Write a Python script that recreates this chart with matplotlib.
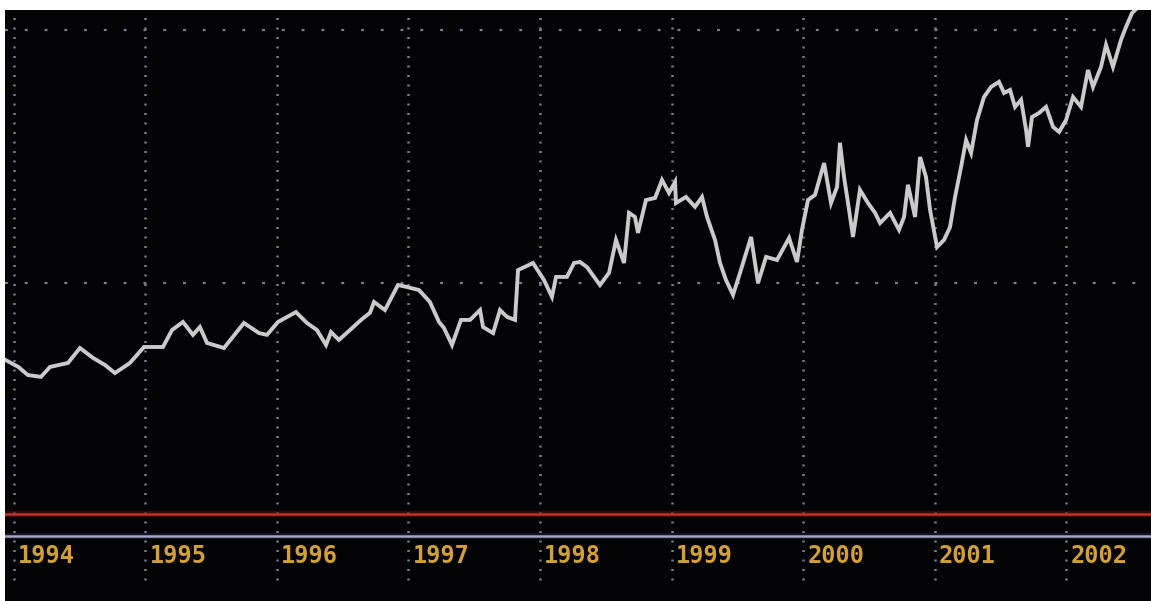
import matplotlib
matplotlib.use("Agg")
import matplotlib.pyplot as plt

# index level (fractional year, value)
t = [1993.935, 1994.034, 1994.106, 1994.205, 1994.274, 1994.411, 1994.502, 1994.601,
     1994.692, 1994.768, 1994.882, 1994.989, 1995.133, 1995.202, 1995.285, 1995.361,
     1995.414, 1995.468, 1995.597, 1995.665, 1995.749, 1995.863, 1995.924, 1996.008,
     1996.144, 1996.228, 1996.304, 1996.373, 1996.411, 1996.471, 1996.555, 1996.639,
     1996.707, 1996.738, 1996.821, 1996.920, 1996.989, 1997.080, 1997.163, 1997.232,
     1997.270, 1997.331, 1997.399, 1997.468, 1997.544, 1997.567, 1997.643, 1997.696,
     1997.749, 1997.810, 1997.833, 1997.947, 1998.030, 1998.091, 1998.122, 1998.205,
     1998.259, 1998.304, 1998.357, 1998.456, 1998.525, 1998.578, 1998.639, 1998.677,
     1998.722, 1998.745, 1998.806, 1998.875, 1998.928, 1998.981, 1999.027, 1999.034,
     1999.110, 1999.179, 1999.232, 1999.270, 1999.331, 1999.369, 1999.414, 1999.468,
     1999.521, 1999.605, 1999.658, 1999.719, 1999.802, 1999.894, 1999.954, 1999.992,
     2000.038, 2000.091, 2000.160, 2000.213, 2000.259, 2000.281, 2000.312, 2000.350,
     2000.380, 2000.433, 2000.494, 2000.548, 2000.586, 2000.662, 2000.730, 2000.768,
     2000.798, 2000.852, 2000.890, 2000.935, 2000.966, 2001.019, 2001.072, 2001.118,
     2001.156, 2001.202, 2001.240, 2001.278, 2001.323, 2001.376, 2001.430, 2001.490,
     2001.529, 2001.574, 2001.612, 2001.658, 2001.696, 2001.711, 2001.741, 2001.795,
     2001.848, 2001.901, 2001.947, 2002.000, 2002.053, 2002.114, 2002.167, 2002.205,
     2002.266, 2002.304, 2002.357, 2002.418, 2002.456, 2002.502, 2002.525]
v = [696, 668, 636, 629, 668, 684, 743, 704,
     676, 644, 684, 747, 747, 814, 846, 795,
     826, 763, 743, 787, 842, 802, 795, 846,
     885, 842, 814, 755, 806, 775, 814, 854,
     882, 925, 893, 992, 984, 972, 925, 846,
     822, 755, 854, 854, 893, 826, 802, 893,
     866, 854, 1051, 1079, 1012, 945, 1024, 1024,
     1079, 1083, 1063, 992, 1040, 1170, 1079, 1277,
     1261, 1198, 1328, 1336, 1407, 1356, 1399, 1316,
     1340, 1301, 1340, 1261, 1170, 1079, 1012, 953,
     1040, 1182, 1000, 1103, 1091, 1178, 1083, 1210,
     1328, 1348, 1474, 1316, 1380, 1554, 1419, 1289,
     1182, 1368, 1316, 1277, 1237, 1277, 1210, 1261,
     1388, 1261, 1498, 1419, 1289, 1142, 1170, 1221,
     1340, 1459, 1565, 1514, 1644, 1735, 1775, 1795,
     1751, 1763, 1696, 1724, 1605, 1538, 1656, 1672,
     1696, 1617, 1597, 1644, 1735, 1696, 1842, 1775,
     1854, 1941, 1854, 1961, 2012, 2067, 2079]

years = [1994, 1995, 1996, 1997, 1998, 1999, 2000, 2001, 2002]
levels = [1000, 2000]
upper_band = 87
lower_band = 0

fig = plt.figure(figsize=(11.51, 6.01), dpi=100, facecolor="white")
ax = fig.add_axes([5 / 1151, 0, 1 - 5 / 1151, 591 / 601])
ax.set_facecolor("#030306")
ax.set_xlim(1993.932, 2002.646)
ax.set_ylim(-257, 2079)

for yr in years:
    ax.axvline(yr, ymin=0.036, ymax=1, color="#7c7c92", lw=1.8,
               ls=(0, (0.8, 3.0)), zorder=1)
for lv in levels:
    ax.axhline(lv, color="#7c7c92", lw=1.6, ls=(0, (1.3, 7.6)), zorder=1)

# bands at the bottom
ax.axhline(upper_band, color="#5a0a0a", lw=4.5, alpha=0.6, zorder=2)
ax.axhline(upper_band, color="#c0302a", lw=1.8, zorder=3)
ax.axhline(lower_band, color="#20203a", lw=4.5, alpha=0.6, zorder=2)
ax.axhline(lower_band, color="#a4a4c4", lw=1.8, zorder=3)

ax.plot(t, v, color="#cacaca", lw=2.8, solid_joinstyle="miter", zorder=4)

for yr in years:
    ax.annotate(str(yr), xy=(yr, -79), xytext=(3, 0), textcoords="offset points",
                color="#d4a030", fontsize=17, fontweight="bold",
                family="DejaVu Sans Mono", va="center", ha="left", zorder=5)

for s in ax.spines.values():
    s.set_visible(False)
ax.set_xticks([])
ax.set_yticks([])

fig.savefig("out.png", dpi=100, facecolor=fig.get_facecolor())
